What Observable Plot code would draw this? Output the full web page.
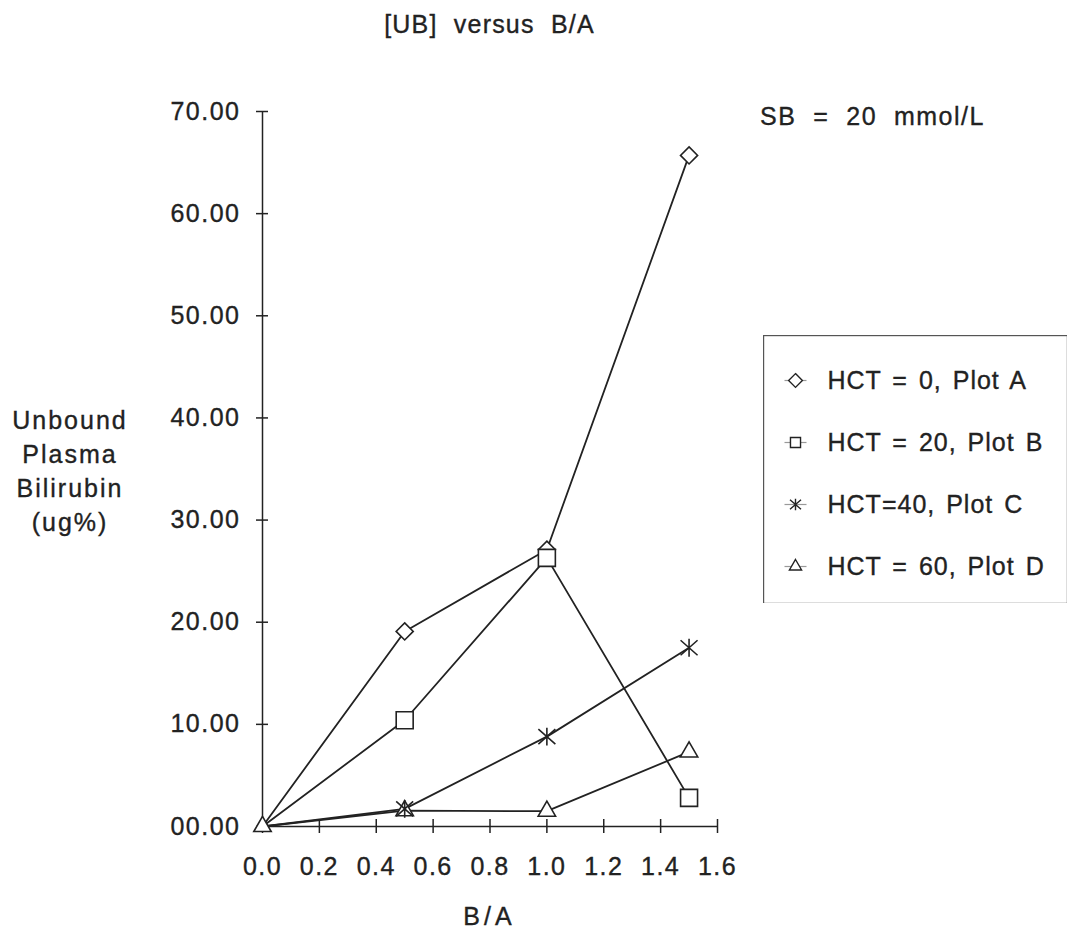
<!DOCTYPE html>
<html><head><meta charset="utf-8">
<script src="https://cdn.jsdelivr.net/npm/d3@7"></script>
<script src="https://cdn.jsdelivr.net/npm/@observablehq/plot@0.6"></script>
<style>
body{margin:0;background:#fff;}
#wrap{position:relative;width:1069px;height:936px;overflow:hidden;font-family:"Liberation Sans",Arial,Helvetica,sans-serif;color:#222;}
#wrap svg{position:absolute;left:0;top:0;}
#wrap svg text{stroke:currentColor;stroke-width:0.35px;}
.t{position:absolute;white-space:pre;font-size:25px;line-height:30px;-webkit-text-stroke:0.35px #222;}
</style></head><body>
<div id="wrap"></div>
<script>
// ---- data ----
const bOverA = [0, 0.5, 1.0, 1.5];
const plotA = [0, 19.1, 27.1, 65.7];
const plotB = [0, 10.4, 26.3, 2.8];
const plotC = [0, 1.73, 8.8, 17.5];
const plotD = [0, 1.55, 1.5, 7.3];
const seriesNames = ["HCT = 0, Plot A", "HCT = 20, Plot B", "HCT=40, Plot C", "HCT = 60, Plot D"];
const seriesValues = [plotA, plotB, plotC, plotD];
const xTicks = [0, 0.2, 0.4, 0.6, 0.8, 1.0, 1.2, 1.4, 1.6];
const yTicks = [0, 10, 20, 30, 40, 50, 60, 70];
const titleText = "[UB]  versus  B/A";
const noteText = "SB  =  20  mmol/L";
const yLabelLines = ["Unbound", "Plasma", "Bilirubin", "(ug%)"];
const xLabelText = "B/A";

// ---- styles ----
const ink = "#222";
// asterisk drawn as an X with a vertical bar, as in the original
const starX = {draw(ctx, size) {
  const r = Math.sqrt(size / Math.PI);
  const h = r * 1.05, w = r, v = r * 0.88;
  ctx.moveTo(0, -h); ctx.lineTo(0, h);
  ctx.moveTo(-w, -v); ctx.lineTo(w, v);
  ctx.moveTo(-w, v); ctx.lineTo(w, -v);
}};
const seriesSymbols = ["diamond2", "square2", starX, "triangle2"];
const markerRadii = [7.7, 10.8, 8.5, 8.3];
const legendRadii = [6.2, 6.4, 5.5, 5.8];
const drawOrder = [0, 1, 3, 2];           // triangle before asterisk (asterisk visible over it)
const markAtOrigin = [false, false, false, true]; // only the triangle shows at the origin

const rows = seriesNames.flatMap((s, i) => bOverA.map((x, j) => ({series: s, x, y: seriesValues[i][j]})));

const marks = [
  Plot.ruleX([0], {stroke: ink, strokeWidth: 1.5}),
  Plot.ruleY([0], {stroke: ink, strokeWidth: 1.5}),
  // crossing tick marks
  Plot.ruleY(yTicks, {y: d => d, x1: 0, x2: 0, insetLeft: -6, insetRight: -6, stroke: ink, strokeWidth: 1.5}),
  Plot.ruleX(xTicks, {x: d => d, y1: 0, y2: 0, insetTop: -7, insetBottom: -7, stroke: ink, strokeWidth: 1.5}),
  Plot.axisY({ticks: yTicks, tickSize: 0, tickPadding: 22, tickFormat: d3.format("05.2f"), label: null}),
  Plot.axisX({ticks: xTicks, tickSize: 0, tickPadding: 31, tickFormat: d3.format(".1f"), label: null}),
  Plot.line(rows, {x: "x", y: "y", z: "series", stroke: ink, strokeWidth: 1.8})
];
drawOrder.forEach(i => {
  const s = seriesNames[i];
  marks.push(Plot.dot(rows.filter(d => d.series === s && (markAtOrigin[i] || d.x !== 0)), {
    x: "x", y: "y", symbol: seriesSymbols[i], r: markerRadii[i],
    fill: seriesSymbols[i] === starX ? "none" : "white", stroke: ink, strokeWidth: 1.6
  }));
});

const chart = Plot.plot({
  width: 1069, height: 936,
  marginLeft: 262, marginRight: 352, marginTop: 111, marginBottom: 110,
  x: {domain: [0, 1.6]},
  y: {domain: [0, 70]},
  style: {fontFamily: '"Liberation Sans", Arial, Helvetica, sans-serif', fontSize: "25px", color: ink, background: "white", letterSpacing: "1.5px"},
  marks
});

const wrap = document.getElementById("wrap");
wrap.appendChild(chart);

function addText(txt, left, centerY, opts = {}) {
  const d = document.createElement("div");
  d.className = "t";
  d.textContent = txt;
  d.style.left = left + "px";
  d.style.top = (centerY - 15) + "px";
  if (opts.center) d.style.transform = "translateX(-50%)";
  if (opts.ls) d.style.letterSpacing = opts.ls;
  if (opts.ws) d.style.wordSpacing = opts.ws;
  wrap.appendChild(d);
  return d;
}
addText(titleText, 489.5, 24, {center: true, ls: "1.2px"});
addText(noteText, 760, 116, {ls: "1.5px"});
addText(xLabelText, 489.5, 916, {center: true, ls: "4px"});

const yl = document.createElement("div");
yl.className = "t";
yl.style.left = "-10px"; yl.style.width = "160px"; yl.style.textAlign = "center";
yl.style.top = (420 - 17) + "px"; yl.style.lineHeight = "34px"; yl.style.letterSpacing = "2px";
yl.innerHTML = yLabelLines.join("<br>");
wrap.appendChild(yl);

// ---- legend ----
const stub = {draw(ctx) { ctx.moveTo(-11, 0); ctx.lineTo(11, 0); }};
const legendMarks = [
  Plot.frame({stroke: "#555", strokeWidth: 1.4}),
  Plot.dot(seriesNames, {y: d => d, frameAnchor: "left", dx: 32, symbol: stub, r: 5, stroke: "#999", strokeWidth: 1.2, fill: "none"})
];
seriesNames.forEach((s, i) => {
  legendMarks.push(Plot.dot([s], {y: d => d, frameAnchor: "left", dx: 32, symbol: seriesSymbols[i], r: legendRadii[i], fill: seriesSymbols[i] === starX ? "none" : "white", stroke: ink, strokeWidth: 1.4}));
});
legendMarks.push(Plot.text(seriesNames, {y: d => d, frameAnchor: "left", dx: 64, text: d => d, textAnchor: "start", fill: ink}));
const legend = Plot.plot({
  width: 304, height: 268, margin: 0,
  y: {type: "point", domain: seriesNames, range: [44, 231], padding: 0, axis: null},
  style: {fontFamily: '"Liberation Sans", Arial, Helvetica, sans-serif', fontSize: "25px", color: ink, background: "white", letterSpacing: "1px", wordSpacing: "3px"},
  marks: legendMarks
});
legend.style.left = "763px";
legend.style.top = "335px";
wrap.appendChild(legend);
</script>
</body></html>
